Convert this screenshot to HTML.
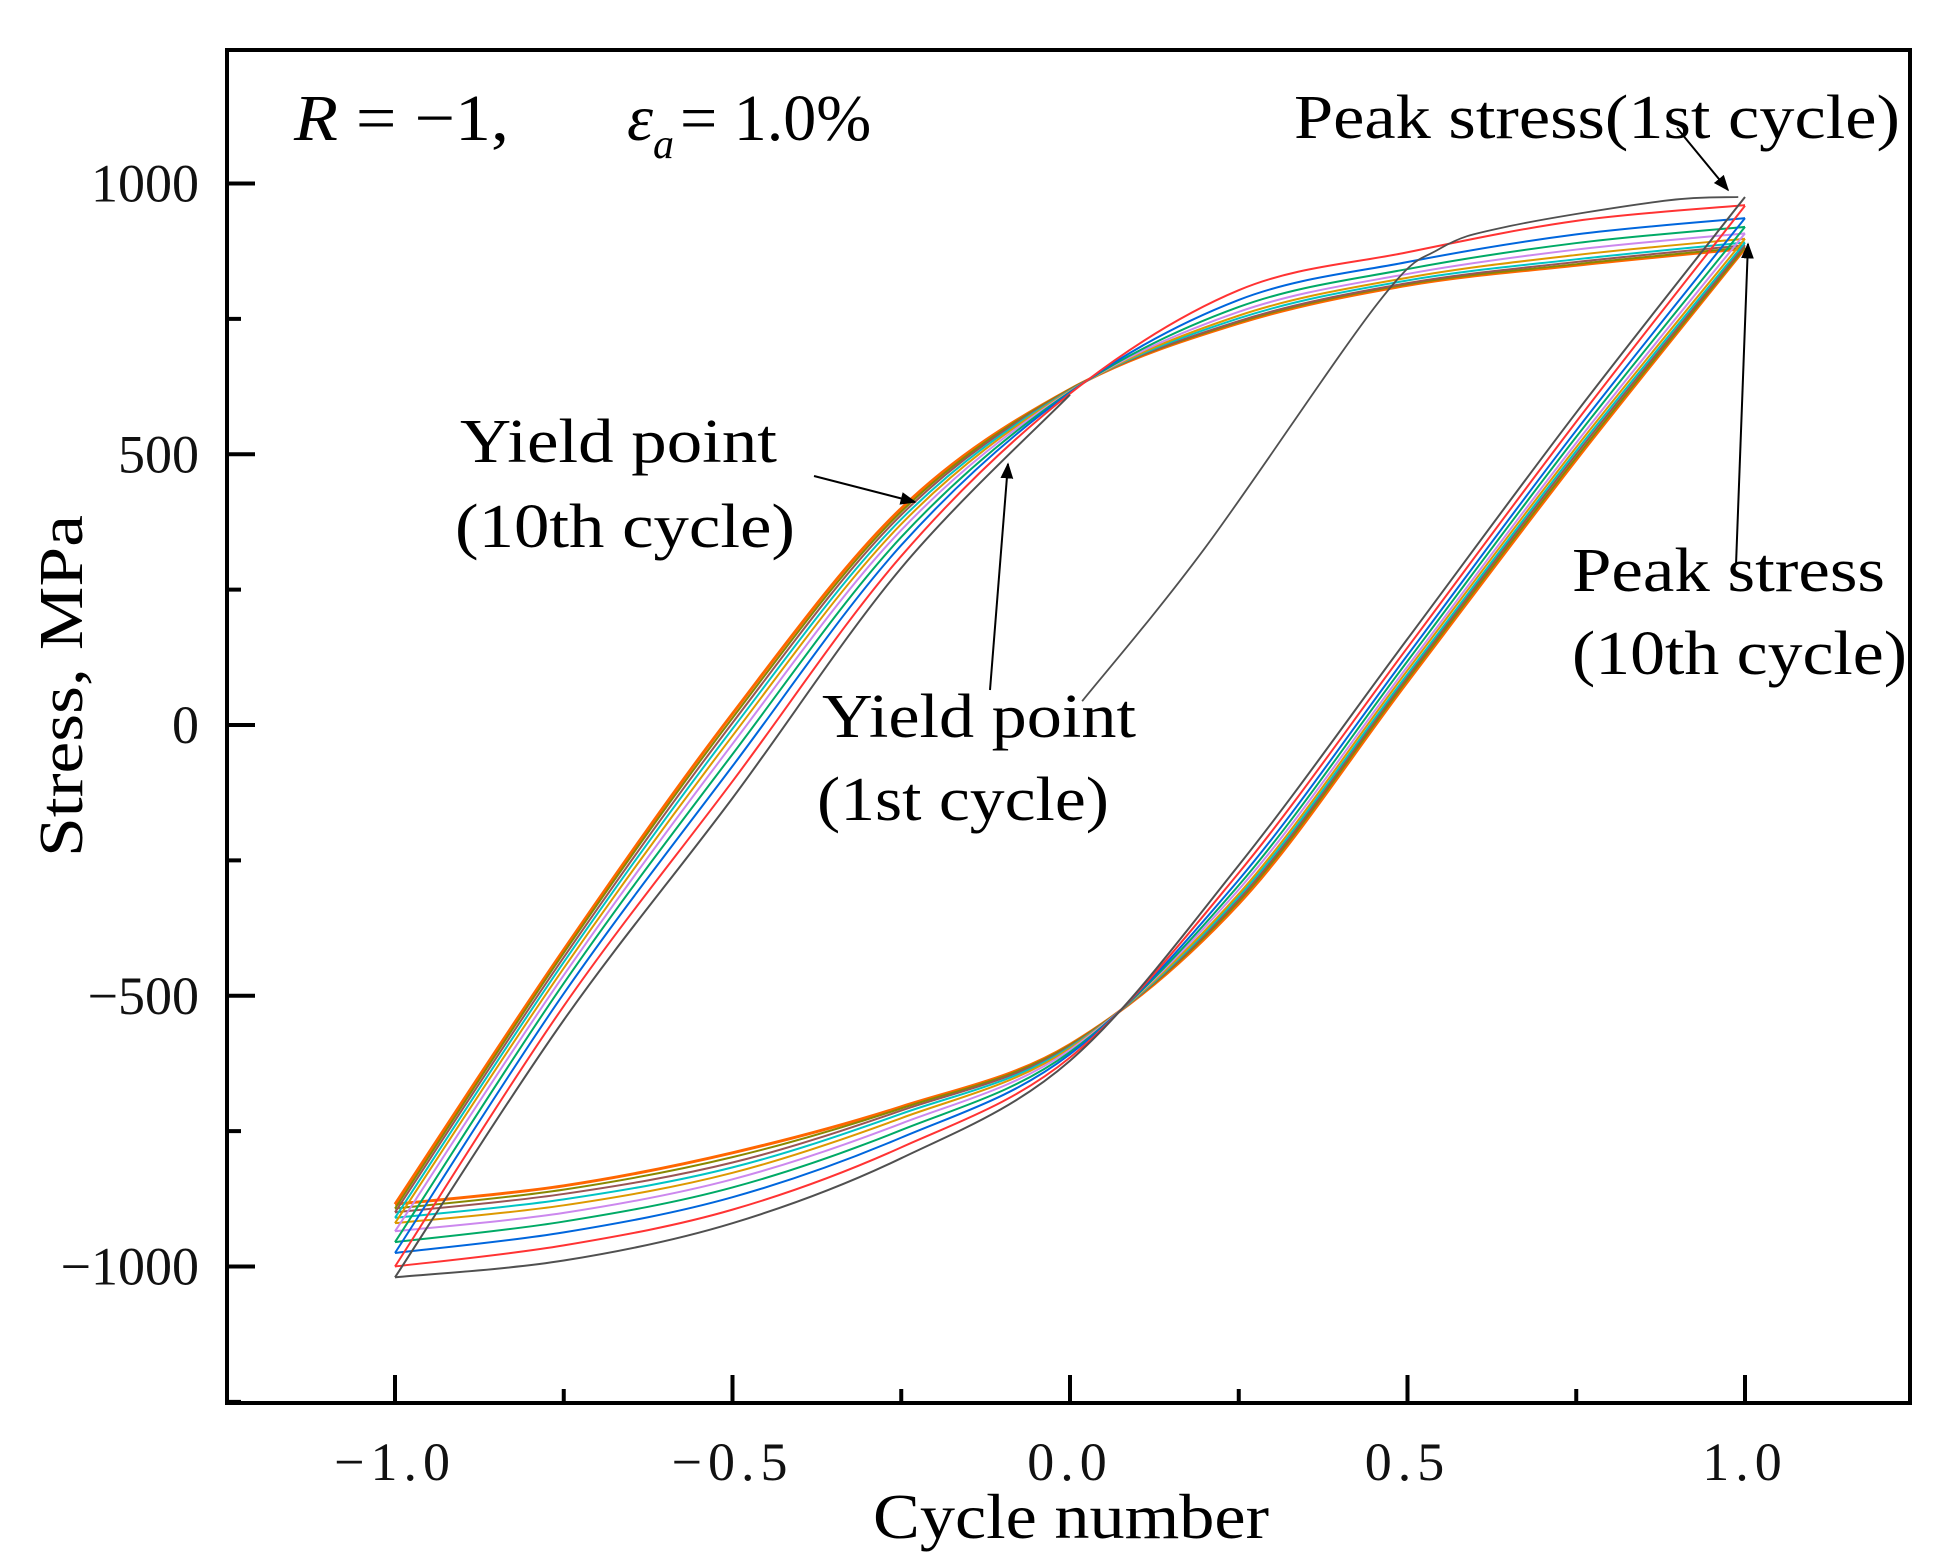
<!DOCTYPE html>
<html><head><meta charset="utf-8"><style>
html,body{margin:0;padding:0;background:#fff;}
svg{display:block;font-family:"Liberation Serif",serif;}
</style></head><body>
<svg id="chart" width="1938" height="1566" viewBox="0 0 1938 1566">
<rect x="0" y="0" width="1938" height="1566" fill="#fff"/>
<g id="series"></g>
<g id="axes"></g>
<g id="ann"></g>
</svg>
<script>
// ---- data ----
const ascX = [-1,-0.75,-0.5,-0.25,0,0.25,0.5,0.75,1];
const descX = [1,0.75,0.5,0.25,0,-0.25,-0.5,-0.75,-1];
const cycleNames = ['c1','c2','c3','c4','c5','c6','c7','c8','c9','c10'];
const cycleColors = ['#505050','#ff3333','#0066dd','#00aa66','#cc88ee','#dd9900','#00c4c4','#995555','#888800','#ff6600'];
const asc1 = [-1020,-545,-135,290,610];
const asc2 = [-1000,-519,-104,312,612,803,873,931,960];
const asc3 = [-975,-496,-76,332,614,785,855,906,936];
const asc4 = [-955,-477,-54,347,615,772,842,890,920];
const asc5 = [-935,-462,-35,360,616,763,833,878,908];
const asc6 = [-920,-449,-20,371,617,756,826,868,898];
const asc7 = [-910,-438,-7,380,618,751,821,860,891];
const asc8 = [-900,-429,4,388,619,746,816,855,886];
const asc9 = [-893,-421,13,394,620,744,814,851,882];
const asc10 = [-885,-415,21,400,620,742,812,849,880];
const desc1 = [975,577,159,-259,-620,-800,-920,-989,-1020];
const desc2 = [959,560,143,-273,-614,-780,-895,-961,-1000];
const desc3 = [936,544,129,-286,-608,-762,-872,-937,-975];
const desc4 = [920,532,118,-296,-604,-748,-854,-917,-955];
const desc5 = [908,521,108,-304,-600,-736,-839,-901,-935];
const desc6 = [898,513,101,-312,-597,-726,-827,-887,-920];
const desc7 = [891,506,94,-317,-595,-718,-817,-876,-910];
const desc8 = [886,500,89,-322,-593,-712,-808,-866,-900];
const desc9 = [882,494,84,-326,-591,-708,-798,-858,-893];
const desc10 = [880,490,80,-330,-590,-705,-790,-851,-885];
const initX = [0.018,0.2,0.456,0.547,0.65,0.88,0.99];
const initY = [44,327,779,879,921,968,975];
const xTicks = [-1,-0.5,0,0.5,1];
const xTickLabels = ['\u22121.0','\u22120.5','0.0','0.5','1.0'];
const xMinor = [-1.25,-0.75,-0.25,0.25,0.75,1.25];
const yTicks = [-1000,-500,0,500,1000];
const yTickLabels = ['\u22121000','\u2212500','0','500','1000'];
const yMinor = [-1250,-750,-250,250,750,1250];
// ---- axes funcs ----
const L=227,T=50,R=1910,B=1403;
function X(v){return 1070+675*v;}
function Y(v){return 725-0.5415*v;}
const NS='http://www.w3.org/2000/svg';
function mk(tag,attrs,parent){const e=document.createElementNS(NS,tag);for(const k in attrs)e.setAttribute(k,attrs[k]);parent.appendChild(e);return e;}
function smoothPath(xs,ys){
  const p=xs.map((x,i)=>[X(x),Y(ys[i])]);
  let d='M'+p[0][0]+','+p[0][1];
  for(let i=0;i<p.length-1;i++){
    const p0=p[Math.max(0,i-1)],p1=p[i],p2=p[i+1],p3=p[Math.min(p.length-1,i+2)];
    const c1=[p1[0]+(p2[0]-p0[0])/6,p1[1]+(p2[1]-p0[1])/6];
    const c2=[p2[0]-(p3[0]-p1[0])/6,p2[1]-(p3[1]-p1[1])/6];
    d+=' C'+c1.join(',')+' '+c2.join(',')+' '+p2.join(',');
  }
  return d;
}
const sg=document.getElementById('series');
const ascAll=[asc1,asc2,asc3,asc4,asc5,asc6,asc7,asc8,asc9,asc10];
const descAll=[desc1,desc2,desc3,desc4,desc5,desc6,desc7,desc8,desc9,desc10];
for(let c=9;c>=0;c--){
  const a=ascAll[c];
  const pa=mk('path',{d:smoothPath(ascX.slice(0,a.length),a),fill:'none',stroke:cycleColors[c],'stroke-width':c===9?3:2},sg);
  
  
  const pd=mk('path',{d:smoothPath(descX,descAll[c]),fill:'none',stroke:cycleColors[c],'stroke-width':c===9?3:2},sg);
  
  
}
const pi=mk('path',{d:smoothPath(initX,initY),fill:'none',stroke:'#505050','stroke-width':1.8},sg);


// axes
const ag=document.getElementById('axes');
const frame=mk('rect',{x:L,y:T,width:R-L,height:B-T,fill:'none',stroke:'#000','stroke-width':4},ag);


xTicks.forEach((v,i)=>{
  const t=mk('line',{x1:X(v),x2:X(v),y1:B,y2:B-28,stroke:'#000','stroke-width':4},ag);
  
  
  const tx=mk('text',{x:X(v),y:1480,'text-anchor':'middle','font-size':54,'letter-spacing':'6',fill:'#111'},ag);
  tx.textContent=xTickLabels[i];
  
  
});
xMinor.forEach(v=>{
  if(X(v)<L||X(v)>R)return;
  const t=mk('line',{x1:X(v),x2:X(v),y1:B,y2:B-14,stroke:'#000','stroke-width':4},ag);
  
  
});
yTicks.forEach((v,i)=>{
  const t=mk('line',{x1:L,x2:L+28,y1:Y(v),y2:Y(v),stroke:'#000','stroke-width':4},ag);
  
  
  const tx=mk('text',{x:199,y:Y(v)+18,'text-anchor':'end','font-size':54,fill:'#111'},ag);
  tx.textContent=yTickLabels[i];
  
  
});
yMinor.forEach(v=>{
  if(Y(v)<T||Y(v)>B)return;
  const t=mk('line',{x1:L,x2:L+14,y1:Y(v),y2:Y(v),stroke:'#000','stroke-width':4},ag);
  
  
});
</script>
<script>
const an=document.getElementById('ann');
an.innerHTML=`
<defs><marker id="ah" viewBox="0 0 10 10" refX="9" refY="5" markerWidth="8" markerHeight="8" orient="auto"><path d="M0,1 L10,5 L0,9 z" fill="#000"/></marker></defs>
<text x="873" y="1538" font-size="64" textLength="396" lengthAdjust="spacingAndGlyphs" fill="#000">Cycle number</text>
<text transform="translate(82,857) rotate(-90)" font-size="62" textLength="342" lengthAdjust="spacingAndGlyphs" fill="#000">Stress, MPa</text>
<text x="294" y="140" font-size="66" textLength="215" lengthAdjust="spacingAndGlyphs" fill="#000"><tspan font-style="italic">R</tspan> = −1,</text>
<text x="627" y="140" font-size="66" fill="#000"><tspan font-style="italic">ε</tspan><tspan font-style="italic" font-size="42" dy="18">a</tspan><tspan dy="-18" dx="6">= 1.0%</tspan></text>
<text x="1294" y="138" font-size="62" textLength="606" lengthAdjust="spacingAndGlyphs" fill="#000">Peak stress(1st cycle)</text>
<line x1="1677" y1="128" x2="1728" y2="190" stroke="#000" stroke-width="2" marker-end="url(#ah)"/>
<text x="460" y="462" font-size="62" textLength="317" lengthAdjust="spacingAndGlyphs" fill="#000">Yield point</text>
<text x="455" y="547" font-size="62" textLength="340" lengthAdjust="spacingAndGlyphs" fill="#000">(10th cycle)</text>
<line x1="814" y1="476" x2="915" y2="502" stroke="#000" stroke-width="2" marker-end="url(#ah)"/>
<line x1="990" y1="690" x2="1008" y2="464" stroke="#000" stroke-width="2" marker-end="url(#ah)"/>
<text x="822" y="737" font-size="62" textLength="314" lengthAdjust="spacingAndGlyphs" fill="#000">Yield point</text>
<text x="817" y="820" font-size="62" textLength="292" lengthAdjust="spacingAndGlyphs" fill="#000">(1st cycle)</text>
<text x="1572" y="591" font-size="62" textLength="313" lengthAdjust="spacingAndGlyphs" fill="#000">Peak stress</text>
<text x="1572" y="674" font-size="62" textLength="335" lengthAdjust="spacingAndGlyphs" fill="#000">(10th cycle)</text>
<line x1="1736" y1="565" x2="1748" y2="244" stroke="#000" stroke-width="2" marker-end="url(#ah)"/>
`;
</script>
</body></html>
